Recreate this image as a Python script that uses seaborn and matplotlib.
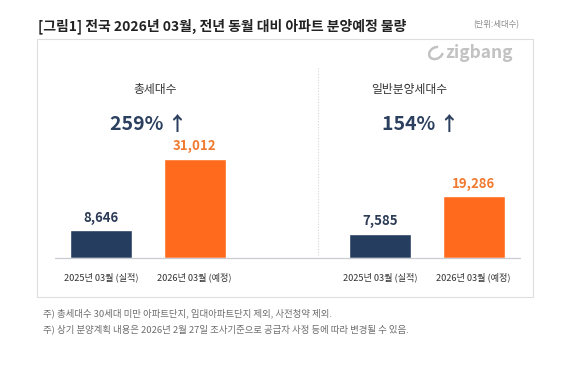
import matplotlib
matplotlib.use("Agg")
import numpy as np
import seaborn as sns
import matplotlib.pyplot as plt
from matplotlib.patches import Rectangle, Arc
from matplotlib.lines import Line2D

# 데이터
categories = ["2025년 03월 (실적)", "2026년 03월 (예정)"]
total_units = [8646, 31012]      # 총세대수
general_units = [7585, 19286]    # 일반분양세대수
panel_titles = ["총세대수", "일반분양세대수"]
growth_labels = ["259% ↑", "154% ↑"]
title = "[그림1] 전국 2026년 03월, 전년 동월 대비 아파트 분양예정 물량"
unit_note = "(단위:세대수)"
notes = ["주) 총세대수 30세대 미만 아파트단지, 임대아파트단지 제외, 사전청약 제외.",
         "주) 상기 분양계획 내용은 2026년 2월 27일 조사기준으로 공급자 사정 등에 따라 변경될 수 있음."]

navy = "#253D5F"
orange = "#FF6A1C"
W, H = 580, 368

sns.set_theme(style="white")
plt.rcParams['font.family'] = ['Noto Sans CJK KR', 'DejaVu Sans']


def fx(x):
    return x / W


def fy(y):
    return 1 - y / H


fig = plt.figure(figsize=(5.8, 3.68), dpi=100)

# 제목, 단위
fig.text(fx(38), fy(26), title, fontsize=10, fontweight="bold", color="#222222", va="center")
fig.text(fx(473), fy(25), unit_note, fontsize=6, color="#8a8a8a", va="center")

# 패널 상자
fig.patches.append(Rectangle((fx(37), fy(297)), fx(533) - fx(37), fy(39) - fy(297),
                             transform=fig.transFigure, fill=False, edgecolor="#dedede", lw=0.8))

# 로고
fig.text(fx(445), fy(53), "zigbang", fontsize=12.5, fontweight="bold", color="#c2c2c2", va="center")
lax = fig.add_axes([fx(428), fy(61), 16 / W, 16 / H])
lax.add_patch(Arc((0.5, 0.5), 0.9, 0.7, angle=30, theta1=40, theta2=330, color="#c2c2c2", lw=1.8))
lax.set_xlim(0, 1)
lax.set_ylim(0, 1)
lax.axis("off")

# 기준선, 구분 점선
fig.add_artist(Line2D([fx(55), fx(520)], [fy(258), fy(258)], transform=fig.transFigure,
                      color="#c9ccd3", lw=0.9))
fig.add_artist(Line2D([fx(318), fx(318)], [fy(68), fy(255)], transform=fig.transFigure,
                      color="#d6d6d6", lw=0.8, ls=(0, (1, 1.5))))

ymax = 62000
unit = 93.5
specs = [(55, 310, 46, total_units), (310, 520, 70, general_units)]
centers = [(155, 90, 149, 125), (409, 89, 421, 125)]

for i, (x0, x1, c0, vals) in enumerate(specs):
    ax = fig.add_axes([fx(x0), fy(258), fx(x1) - fx(x0), fy(60) - fy(258)])
    sns.barplot(x=categories, y=vals, hue=categories, palette=[navy, orange],
                width=62 / unit, legend=False, ax=ax, saturation=1)
    ax.set_xlim(-c0 / unit, (x1 - x0 - c0) / unit)
    ax.set_ylim(0, ymax)
    ax.set_yticks([])
    ax.set_xticks([])
    for s in ax.spines.values():
        s.set_visible(False)
    ax.patch.set_alpha(0)
    for j, cont in enumerate(ax.containers):
        ax.bar_label(cont, labels=[f"{vals[j]:,}"], padding=4, fontsize=9.5, fontweight="bold",
                     color=["#2B3A55", "#F07A30"][j])
    for j, cat in enumerate(categories):
        ax.annotate(cat, (j, 0), xytext=(0, -14), textcoords="offset points",
                    ha="center", va="center", fontsize=6.6, color="#333333")
    tx, ty, gx, gy = centers[i]
    fig.text(fx(tx), fy(ty), panel_titles[i], fontsize=8.5, color="#333333", ha="center", va="center")
    fig.text(fx(gx), fy(gy), growth_labels[i], fontsize=14, fontweight="bold", color="#2B3F5F",
             ha="center", va="center")

# 주석
fig.text(fx(43), fy(313), notes[0], fontsize=6.8, color="#6e6e6e", va="center")
fig.text(fx(43), fy(329), notes[1], fontsize=6.8, color="#6e6e6e", va="center")

fig.savefig("out.png", dpi=100)
